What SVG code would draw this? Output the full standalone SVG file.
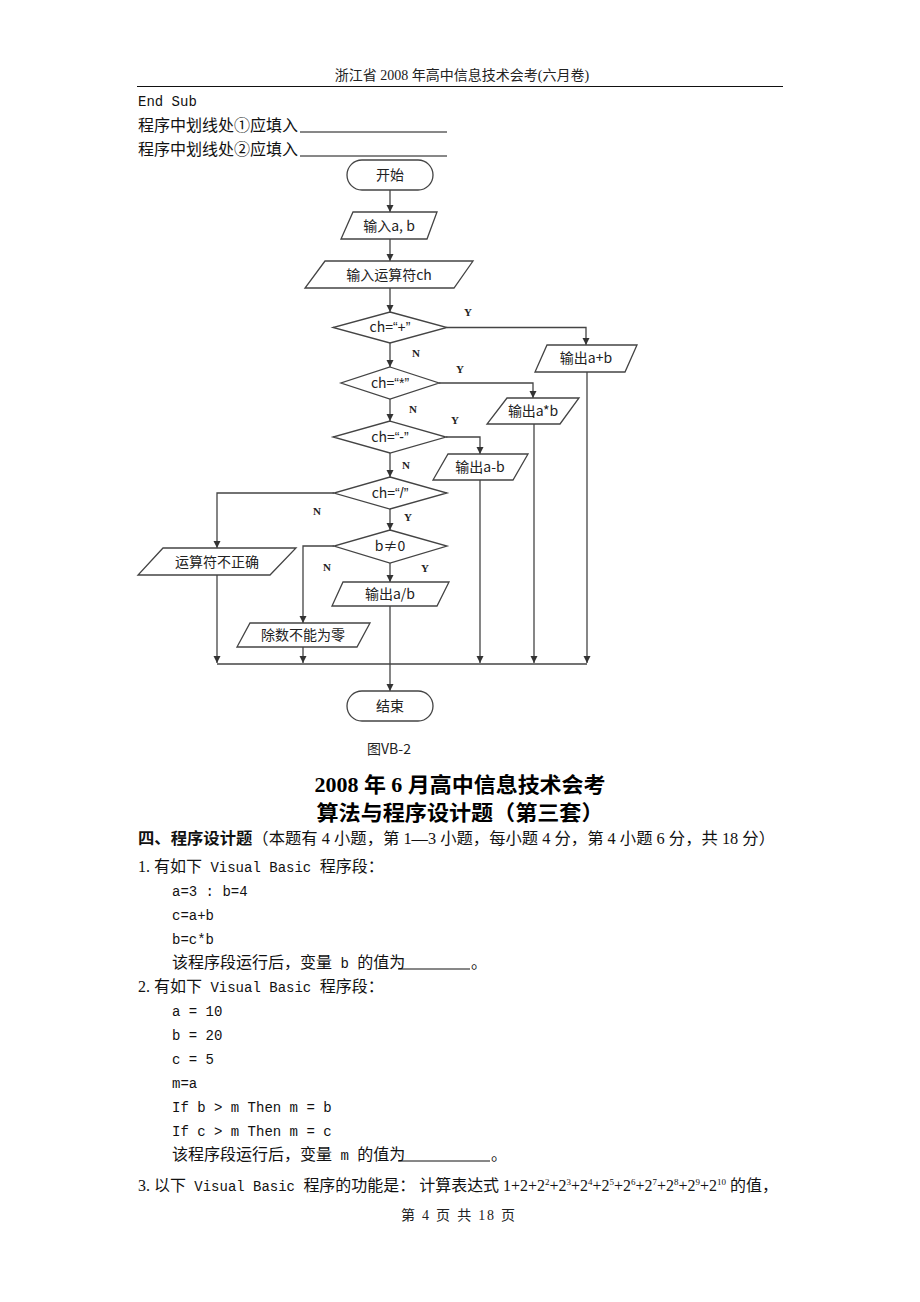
<svg xmlns="http://www.w3.org/2000/svg" width="920" height="1302" viewBox="0 0 920 1302">
<defs>
<marker id="ah" markerWidth="8" markerHeight="8" refX="7" refY="4" orient="auto" markerUnits="userSpaceOnUse">
<path d="M0,0.5 L7,4 L0,7.5 Z" fill="#333"/>
</marker>
<style>
.shape{fill:#fff;stroke:#444;stroke-width:1.3}
.conn path{fill:none;stroke:#444;stroke-width:1.3}
.arr{marker-end:url(#ah)}
.lbl{font-family:"Noto Sans CJK SC","Liberation Sans",sans-serif;font-size:14px;fill:#222;text-anchor:middle}
.q{font-family:"Liberation Sans",sans-serif}
.yn{font-family:"Liberation Serif",serif;font-size:11px;font-weight:bold;fill:#222;text-anchor:middle}
.t{font-family:"Liberation Serif","Noto Sans CJK SC",serif;font-size:16px;fill:#111}
.m{font-family:"Liberation Mono",monospace;font-size:14px}
.h{font-family:"Liberation Serif","Noto Sans CJK SC",serif;font-size:14px;fill:#222}
.ttl{font-family:"Liberation Serif","Noto Sans CJK SC",serif;font-size:21px;font-weight:bold;fill:#000;text-anchor:middle}
.ul{stroke:#111;stroke-width:1}
</style>
</defs>
<rect width="920" height="1302" fill="#fff"/>

<!-- page header -->
<text class="h" x="462" y="80" text-anchor="middle">浙江省 2008 年高中信息技术会考(六月卷)</text>
<line x1="137" y1="86.5" x2="783" y2="86.5" stroke="#111" stroke-width="1.2"/>

<text class="t" x="138" y="106"><tspan class="m">End Sub</tspan></text>
<text class="t" x="138" y="131">程序中划线处①应填入</text>
<line class="ul" x1="300" y1="132" x2="447" y2="132"/>
<text class="t" x="138" y="155">程序中划线处②应填入</text>
<line class="ul" x1="300" y1="156" x2="447" y2="156"/>

<!-- connectors -->
<g id="connectors" class="conn">
<path class="arr" d="M390,190 V212"/>
<path class="arr" d="M390,239 V261"/>
<path class="arr" d="M390,288 V312"/>
<path class="arr" d="M447,327.5 H586 V345"/>
<path class="arr" d="M390,343 V367"/>
<path class="arr" d="M439,383 H533 V398"/>
<path class="arr" d="M390,399 V421"/>
<path class="arr" d="M446,437 H480 V454"/>
<path class="arr" d="M390,453 V477"/>
<path class="arr" d="M334,493 H217 V548"/>
<path class="arr" d="M390,509 V530"/>
<path class="arr" d="M334,546 H303 V623"/>
<path class="arr" d="M390,563 V582"/>
<path class="arr" d="M217,575 V663"/>
<path class="arr" d="M303,647 V663"/>
<path class="arr" d="M480,480 V663"/>
<path class="arr" d="M534,424 V663"/>
<path class="arr" d="M587,372 V663"/>
<path d="M217,664 H587"/>
<path class="arr" d="M390,606 V691"/>
<text class="yn" x="468" y="316">Y</text>
<text class="yn" x="416" y="357">N</text>
<text class="yn" x="460" y="373">Y</text>
<text class="yn" x="413" y="413">N</text>
<text class="yn" x="455" y="424">Y</text>
<text class="yn" x="406" y="469">N</text>
<text class="yn" x="317" y="515">N</text>
<text class="yn" x="408" y="521">Y</text>
<text class="yn" x="327" y="571">N</text>
<text class="yn" x="425" y="572">Y</text>
</g>

<!-- nodes -->
<g id="start"><rect class="shape" x="347" y="160" width="86" height="30" rx="15"/><text class="lbl" x="390" y="180">开始</text></g>
<g id="input-ab"><polygon class="shape" points="353,212 437,212 427,239 341,239"/><text class="lbl" x="389" y="231">输入a, b</text></g>
<g id="input-ch"><polygon class="shape" points="325,261 473,261 454,288 305,288"/><text class="lbl" x="389" y="280">输入运算符ch</text></g>
<g id="d-plus"><polygon class="shape" points="390,312 447,327.5 390,343 333,327.5"/><text class="lbl" x="390" y="332">ch=<tspan class="q">“+”</tspan></text></g>
<g id="out-plus"><polygon class="shape" points="547,345 637,345 625,372 535,372"/><text class="lbl" x="586" y="363">输出a+b</text></g>
<g id="d-mul"><polygon class="shape" points="390,367 439,383 390,399 341,383"/><text class="lbl" x="390" y="388">ch=<tspan class="q">“*”</tspan></text></g>
<g id="out-mul"><polygon class="shape" points="507,398 579,398 560,424 487,424"/><text class="lbl" x="533" y="416">输出a*b</text></g>
<g id="d-minus"><polygon class="shape" points="390,421 446,437 390,453 333,437"/><text class="lbl" x="390" y="442">ch=<tspan class="q">“-”</tspan></text></g>
<g id="out-minus"><polygon class="shape" points="448,454 528,454 513,480 433,480"/><text class="lbl" x="480" y="472">输出a-b</text></g>
<g id="d-div"><polygon class="shape" points="390,477 447,493 390,509 334,493"/><text class="lbl" x="390" y="498">ch=<tspan class="q">“/”</tspan></text></g>
<g id="d-bnz"><polygon class="shape" points="390,530 447,546 390,563 334,546"/><text class="lbl" x="390" y="551">b≠0</text></g>
<g id="out-div"><polygon class="shape" points="343,582 449,582 437,606 332,606"/><text class="lbl" x="390" y="599">输出a/b</text></g>
<g id="err-op"><polygon class="shape" points="163,548 296,548 270,575 138,575"/><text class="lbl" x="217" y="567">运算符不正确</text></g>
<g id="err-zero"><polygon class="shape" points="250,623 370,623 357,647 237,647"/><text class="lbl" x="303" y="640">除数不能为零</text></g>
<g id="end"><rect class="shape" x="347" y="691" width="86" height="30" rx="15"/><text class="lbl" x="390" y="711">结束</text></g>

<text class="lbl" x="389" y="754">图VB-2</text>

<!-- titles -->
<text class="ttl" x="460" y="792" textLength="291" lengthAdjust="spacingAndGlyphs">2008 年 6 月高中信息技术会考</text>
<text class="ttl" x="460" y="820" textLength="287" lengthAdjust="spacingAndGlyphs">算法与程序设计题（第三套）</text>

<text class="t" x="138" y="844" textLength="637" lengthAdjust="spacingAndGlyphs"><tspan font-weight="bold">四、程序设计题</tspan>（本题有 4 小题，第 1—3 小题，每小题 4 分，第 4 小题 6 分，共 18 分）</text>
<text class="t" x="138" y="872">1. 有如下<tspan class="m"> Visual Basic </tspan>程序段：</text>
<text class="t" x="172" y="896"><tspan class="m">a=3 : b=4</tspan></text>
<text class="t" x="172" y="920"><tspan class="m">c=a+b</tspan></text>
<text class="t" x="172" y="944"><tspan class="m">b=c*b</tspan></text>
<text class="t" x="172" y="968">该程序段运行后，变量<tspan class="m"> b </tspan>的值为</text>
<line class="ul" x1="398" y1="969" x2="470" y2="969"/>
<text class="t" x="471" y="968">。</text>

<text class="t" x="138" y="992">2. 有如下<tspan class="m"> Visual Basic </tspan>程序段：</text>
<text class="t" x="172" y="1016"><tspan class="m">a = 10</tspan></text>
<text class="t" x="172" y="1040"><tspan class="m">b = 20</tspan></text>
<text class="t" x="172" y="1064"><tspan class="m">c = 5</tspan></text>
<text class="t" x="172" y="1088"><tspan class="m">m=a</tspan></text>
<text class="t" x="172" y="1112"><tspan class="m">If b &gt; m Then m = b</tspan></text>
<text class="t" x="172" y="1136"><tspan class="m">If c &gt; m Then m = c</tspan></text>
<text class="t" x="172" y="1160">该程序段运行后，变量<tspan class="m"> m </tspan>的值为</text>
<line class="ul" x1="398" y1="1161" x2="490" y2="1161"/>
<text class="t" x="491" y="1160">。</text>

<text class="t" x="138" y="1191" textLength="640" lengthAdjust="spacingAndGlyphs">3. 以下<tspan class="m"> Visual Basic </tspan>程序的功能是：  计算表达式 1+2+2<tspan font-size="9" dy="-6">2</tspan><tspan dy="6">+2</tspan><tspan font-size="9" dy="-6">3</tspan><tspan dy="6">+2</tspan><tspan font-size="9" dy="-6">4</tspan><tspan dy="6">+2</tspan><tspan font-size="9" dy="-6">5</tspan><tspan dy="6">+2</tspan><tspan font-size="9" dy="-6">6</tspan><tspan dy="6">+2</tspan><tspan font-size="9" dy="-6">7</tspan><tspan dy="6">+2</tspan><tspan font-size="9" dy="-6">8</tspan><tspan dy="6">+2</tspan><tspan font-size="9" dy="-6">9</tspan><tspan dy="6">+2</tspan><tspan font-size="9" dy="-6">10</tspan><tspan dy="6"> 的值，</tspan></text>

<text class="h" x="401" y="1220" textLength="114" lengthAdjust="spacing">第 4 页 共 18 页</text>
</svg>
